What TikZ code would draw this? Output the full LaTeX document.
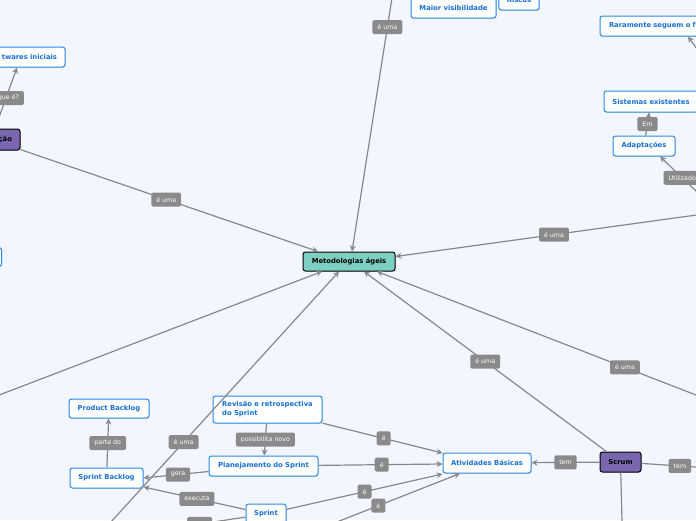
\documentclass[tikz,border=0pt]{standalone}
\usepackage{fontspec}
\setmainfont{DejaVu Sans}
\usepackage{xcolor}
\usetikzlibrary{arrows.meta,positioning,shadows}

\definecolor{bgpage}{RGB}{243,246,254}
\definecolor{topicline}{RGB}{40,137,229}
\definecolor{topictext}{RGB}{22,112,212}
\definecolor{mainfill}{RGB}{126,207,195}
\definecolor{keyfill}{RGB}{122,103,176}
\definecolor{tagfill}{RGB}{138,138,140}
\definecolor{linkgray}{RGB}{135,136,140}

\begin{document}
\begin{tikzpicture}[x=1pt,y=-1pt,
  topic/.style={rectangle,draw=topicline,fill=white,rounded corners=2.5pt,line width=1pt,
    text=topictext,font=\bfseries\fontsize{6.8}{9}\selectfont,minimum height=20pt,
    inner xsep=8pt,inner ysep=2pt,drop shadow={shadow xshift=0.6pt,shadow yshift=-0.8pt,opacity=0.2}},
  mainidea/.style={topic,draw=black,fill=mainfill,text=black},
  keyidea/.style={topic,draw=black,fill=keyfill,text=black},
  tag/.style={rectangle,fill=tagfill,text=white,rounded corners=1.5pt,font=\fontsize{6.3}{7}\selectfont,
    minimum height=14pt,minimum width=14pt,inner xsep=5pt,inner ysep=1pt},
  link/.style={draw=linkgray,line width=1.2pt,-{Stealth[length=6pt,width=6pt]}}]

% page
\useasboundingbox (0,0) rectangle (696,520);
\clip (0,0) rectangle (696,520);
\fill[bgpage] (0,0) rectangle (696,520);

% central idea
\node[mainidea,minimum width=92pt,minimum height=19pt] (meto) at (349,261.5) {Metodologias ágeis};

% upper left
\node[keyidea,text width=42pt,align=right,minimum height=21pt] (cao) at (-9,139.5) {ção};
\node[topic,text width=80pt,align=right] (softw) at (17,57) {twares iniciais};
\node[topic,minimum width=40pt,minimum height=19pt] (leftbox) at (-18.5,257) {};

% top
\node[topic,minimum width=85pt] (maior) at (453.5,8) {Maior visibilidade};
\node[topic,minimum width=40pt] (riscos) at (519,0) {Riscos};

% upper right
\node[topic,text width=110pt,align=left,inner xsep=9pt] (rara) at (664,26) {Raramente seguem o f};
\node[topic,minimum width=94pt,minimum height=21pt] (siste) at (651,101.5) {Sistemas existentes};
\node[topic,minimum width=62pt] (adapt) at (644,146) {Adaptações};

% lower left
\node[topic,minimum width=80pt,minimum height=19pt] (prodb) at (109,408.5) {Product Backlog};
\node[topic,minimum width=73pt] (sprintb) at (106.5,478) {Sprint Backlog};
\node[topic,minimum width=109pt,minimum height=27pt,align=left] (revisao) at (267.5,409.5) {Revisão e retrospectiva\\do Sprint};
\node[topic,minimum width=109pt] (planej) at (263.5,466) {Planejamento do Sprint};
\node[topic,minimum width=40pt] (sprint) at (266,514) {Sprint};

% lower right
\node[topic,minimum width=88pt] (ativ) at (487,463) {Atividades Básicas};
\node[keyidea,minimum width=41pt] (scrum) at (620.5,462) {Scrum};

% ends outside the page
\coordinate (topsrc) at (398,-40);
\coordinate (rsrc) at (740,209);
\coordinate (lsrc) at (-40,410);
\coordinate (bsrc) at (90,545);
\coordinate (rbsrc) at (740,412);
\coordinate (rarasrc) at (720,81);
\coordinate (utilsrc) at (720,214);
\coordinate (sprsrc) at (120,536);
\coordinate (atsrc) at (300,536.5);
\coordinate (temsrc) at (740,470);
\coordinate (downsrc) at (623,560);

% into the central idea
\draw[link] (cao) -- node[tag,pos=.49] (lbcao) {é uma} ([xshift=-31pt]meto.north);
\draw[link] (topsrc) -- node[tag,pos=.23] (lbtop) {é uma} ([xshift=3pt]meto.north);
\draw[link] (rsrc) -- node[tag,pos=.54] (lbright) {é uma} ([yshift=5pt]meto.east);
\draw[link] (lsrc) -- ([xshift=-27pt]meto.south);
\draw[link] (bsrc) -- node[tag,pos=.376] (lbbottom) {é uma} ([xshift=-10pt]meto.south);
\draw[link] (scrum) -- node[tag,pos=.5] (lbscrum) {é uma} ([xshift=15pt]meto.south);
\draw[link] (rbsrc) -- node[tag,pos=.317] (lbrb) {é uma} ([xshift=28pt]meto.south);

% upper branches
\draw[link] (cao) -- node[tag,pos=.5,text width=30pt,align=right,xshift=-2pt] (lbque) {que é?} (softw.south);
\draw[link] (rarasrc) -- ([xshift=24pt]rara.south);
\draw[link] (adapt) -- node[tag,pos=.5] (lbem) {Em} (siste);
\draw[link] (utilsrc) -- node[tag,pos=.63] (lbutil) {Utilizado} ([xshift=16pt]adapt.south);

% sprint branches
\draw[link] (sprintb) -- node[tag,pos=.5] (lbparte) {parte do} (prodb);
\draw[link] (revisao) -- node[tag,pos=.5] (lbnovo) {possibilita novo} (planej);
\draw[link] (planej) -- node[tag,pos=.47] (lbgera) {gera} (sprintb.east);
\draw[link] (sprint) -- node[tag,pos=.476] (lbexec) {executa} ([yshift=-9pt]sprintb.east);
\draw[link] (sprint) -- node[tag,pos=.365,minimum width=25pt] (lbsprint) {} (sprsrc);

% basic activities
\draw[link] (revisao) -- node[tag,pos=.51] (lbe1) {é} ([yshift=10pt]ativ.west);
\draw[link] (planej) -- node[tag,pos=.51] (lbe2) {é} ([yshift=-1pt]ativ.west);
\draw[link] (sprint) -- node[tag,pos=.5] (lbe3) {é} ([yshift=-11pt]ativ.west);
\draw[link] (atsrc) -- node[tag,pos=.49] (lbe4) {é} ([xshift=-27pt]ativ.south);
\draw[link] (scrum) -- node[tag,pos=.5] (lbtem) {tem} (ativ);
\draw[link] (scrum) -- node[tag,pos=.39] (lbtem2) {tem} (temsrc);
\draw[link] (scrum) -- (downsrc);
\end{tikzpicture}
\end{document}
